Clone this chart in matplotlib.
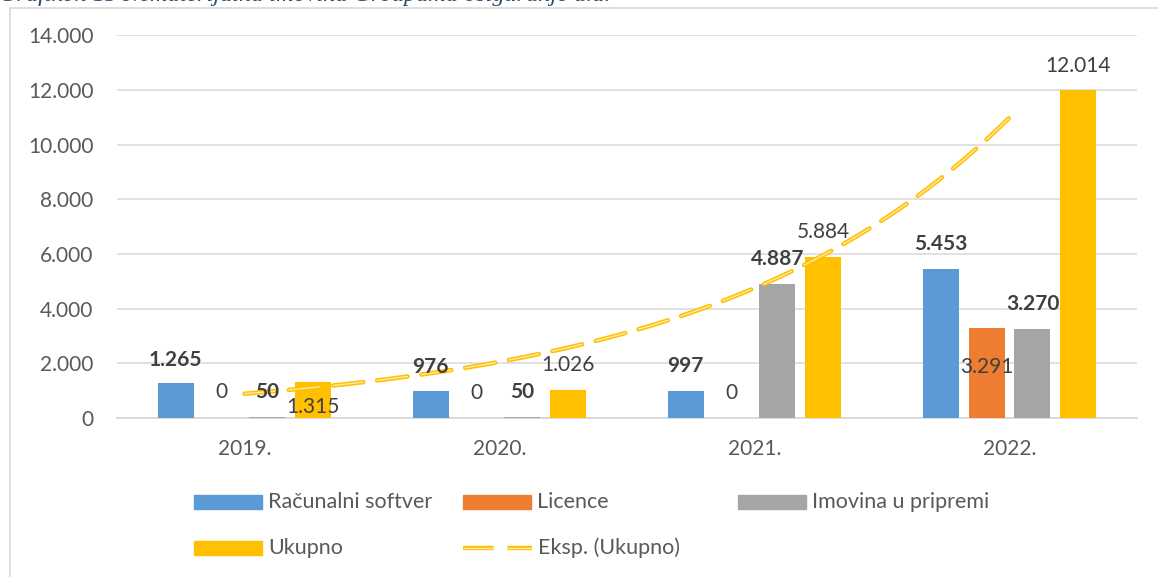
import matplotlib.pyplot as plt
import matplotlib.patches as mpatches
import matplotlib.ticker as mtick
import numpy as np

plt.rcParams['font.family'] = ['Lato', 'DejaVu Sans']
plt.rcParams['lines.scale_dashes'] = False

# data
years = ['2019.', '2020.', '2021.', '2022.']
softver = [1265, 976, 997, 5453]
licence = [0, 0, 0, 3291]
imovina = [50, 50, 4887, 3270]
ukupno = [1315, 1026, 5884, 12014]
series_names = ['Računalni softver', 'Licence', 'Imovina u pripremi', 'Ukupno']
trend_name = 'Eksp. (Ukupno)'
yticks = [0, 2000, 4000, 6000, 8000, 10000, 12000, 14000]

# data labels were dragged by hand in the original, keep their heights
label_y = [[2122, 1870, 1900, 6370],
           [950, 910, 910, 1870],
           [950, 950, 5820, 4170],
           [400, 1940, 6800, 12880]]
label_bold = [True, False, True, False]

colors = ['#5B9BD5', '#ED7D31', '#A5A5A5', '#FFC000']
W, H = 1158, 577
fs = 15
fig = plt.figure(figsize=(W/100., H/100.), dpi=100)
ax = fig.add_axes([117./W, 1-418./H, 1020./W, (418-35.3)/H])

x = np.arange(len(years))
bw = 0.141
step = 0.18
allv = [softver, licence, imovina, ukupno]
for i, vals in enumerate(allv):
    off = (i-1.5)*step
    ax.bar(x+off, vals, bw, color=colors[i], zorder=2)
    for j, v in enumerate(vals):
        ax.text(x[j]+off, label_y[i][j], '{:,}'.format(v).replace(',', '.'),
                ha='center', va='center', fontsize=fs, color='#404040',
                fontweight='bold' if label_bold[i] else 'normal', zorder=5)

# exponential trendline on Ukupno
k, b = np.polyfit(x+1, np.log(ukupno), 1)
xt = np.linspace(0, 3, 120)
yt = np.exp(b + k*(xt+1))
ax.plot(xt, yt, color='#FFC000', lw=3.2, dashes=(22, 10), dash_capstyle='round', zorder=4)
ax.plot(xt, yt, color='#FFE9A8', lw=1.0, dashes=(22, 10), dash_capstyle='round', zorder=4)

ax.set_xlim(-0.5, 3.5)
ax.set_ylim(0, 14000)
ax.set_yticks(yticks)
ax.yaxis.set_major_formatter(mtick.FuncFormatter(lambda v, p: '{:,}'.format(int(v)).replace(',', '.')))
ax.set_xticks(x)
ax.set_xticklabels(years)
ax.tick_params(axis='y', length=0, pad=17, labelsize=fs, labelcolor='#595959')
ax.tick_params(axis='x', length=0, pad=15, labelsize=fs, labelcolor='#595959')
ax.grid(axis='y', color='#D9D9D9', lw=1.1, zorder=0)
for s in ['top', 'right', 'left']:
    ax.spines[s].set_visible(False)
ax.spines['bottom'].set_color('#D9D9D9')
ax.spines['bottom'].set_linewidth(1.3)
ax.spines['bottom'].set_zorder(1)

# legend, drawn by hand to match the column layout
def fx(px):
    return px/float(W)
def fy(py):
    return 1-py/float(H)

leg = [(194, 502, 0), (463, 502, 1), (738, 502, 2), (194, 548, 3)]
for (lx, ly, i) in leg:
    fig.patches.append(mpatches.Rectangle((fx(lx), fy(ly+7)), 68./W, 14./H,
                                          color=colors[i], transform=fig.transFigure))
    fig.text(fx(lx+74), fy(ly), series_names[i], fontsize=15.5, color='#595959', va='center')
fig.add_artist(plt.Line2D([fx(463), fx(532)], [fy(548), fy(548)], color='#FFC000', lw=3.2,
                          dashes=(22, 10), transform=fig.transFigure))
fig.add_artist(plt.Line2D([fx(463), fx(532)], [fy(548), fy(548)], color='#FFE9A8', lw=1.0,
                          dashes=(22, 10), transform=fig.transFigure))
fig.text(fx(538), fy(548), trend_name, fontsize=15.5, color='#595959', va='center')

# chart border and the caption cut off above it
fig.patches.append(mpatches.Rectangle((fx(10), -0.2), 1.2, fy(8)+0.2, fill=False,
                                      edgecolor='#D9D9D9', lw=1.2, transform=fig.transFigure))
fig.text(fx(-1), fy(1.5), 'Grafikon 13 Nematerijalna imovina Groupama osiguranje d.d.',
         fontsize=17.5, style='italic', family='Liberation Serif', color='#2F4A6A', va='baseline')

plt.savefig('out.png', dpi=100)
